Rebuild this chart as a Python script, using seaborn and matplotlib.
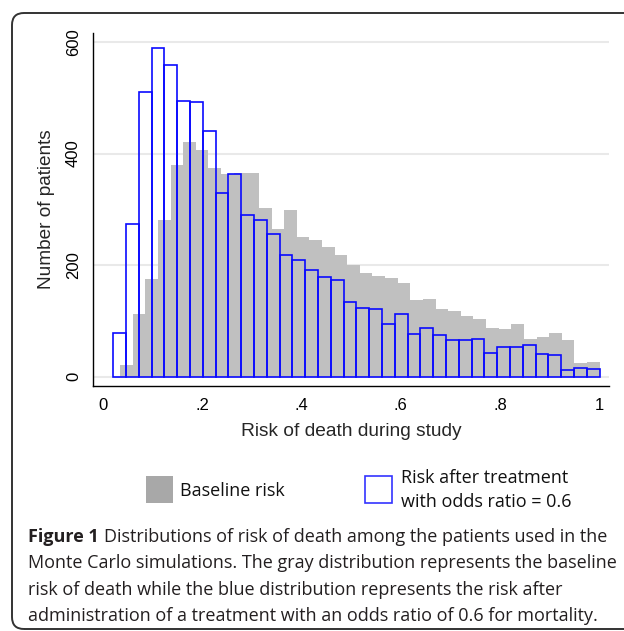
import numpy as np
import pandas as pd
import matplotlib
matplotlib.use("Agg")
import matplotlib.pyplot as plt
from matplotlib.patches import Rectangle, FancyBboxPatch
import seaborn as sns

# ---------------- data ----------------
baseline_counts = [21, 112, 176, 281, 380, 420, 406, 374, 363, 366,
                   366, 302, 265, 298, 251, 245, 233, 218, 200, 186,
                   180, 177, 168, 138, 139, 121, 118, 109, 104, 88,
                   86, 94, 67, 72, 78, 66, 24, 26]
baseline_range = (0.035, 1.0)

treated_counts = [78, 273, 510, 590, 558, 494, 492, 440, 330, 363,
                  289, 281, 255, 219, 209, 192, 178, 173, 134, 124,
                  122, 95, 113, 77, 87, 74, 66, 66, 68, 43,
                  54, 53, 56, 41, 39, 12, 16, 14]
treated_range = (0.0213, 1.0)

x_ticks = [0, 0.2, 0.4, 0.6, 0.8, 1.0]
x_tick_labels = ["0", ".2", ".4", ".6", ".8", "1"]
y_ticks = [0, 200, 400, 600]
y_tick_labels = ["0", "200", "400", "600"]

x_label = "Risk of death during study"
y_label = "Number of patients"
legend_labels = ["Baseline risk", "Risk after treatment\nwith odds ratio = 0.6"]
caption_bold = "Figure 1"
caption_lines = [
    "Distributions of risk of death among the patients used in the",
    "Monte Carlo simulations. The gray distribution represents the baseline",
    "risk of death while the blue distribution represents the risk after",
    "administration of a treatment with an odds ratio of 0.6 for mortality.",
]

# ---------------- figure ----------------
W, H = 624, 631
sns.set_style("white")
plt.rcParams["font.family"] = ["Liberation Sans", "DejaVu Sans"]

fig = plt.figure(figsize=(W / 100, H / 100), dpi=100)


def fx(px):
    return px / W


def fy(py):
    return 1 - py / H


ax_l, ax_r, ax_t, ax_b = 93.3, 609, 32.7, 386
ax = fig.add_axes([fx(ax_l), fy(ax_b), fx(ax_r) - fx(ax_l), fy(ax_t) - fy(ax_b)])


def hist(counts, rng, **kw):
    n = len(counts)
    width = (rng[1] - rng[0]) / n
    centers = rng[0] + width * (np.arange(n) + 0.5)
    df = pd.DataFrame({"risk": centers, "n": np.asarray(counts, dtype=float)})
    sns.histplot(data=df, x="risk", weights="n", bins=n, binrange=rng,
                 ax=ax, **kw)


GRAY = "#c0c0c0"
BLUE = "#0a0aff"
hist(baseline_counts, baseline_range, color=GRAY, alpha=1, linewidth=0,
     edgecolor=GRAY, stat="count")
hist(treated_counts, treated_range, fill=False, color=BLUE, linewidth=1.2,
     stat="count")

ax.set_xlim(-0.0189, 1.0188)
ax.set_ylim(-16.7, 616.7)
ax.set_xticks(x_ticks)
ax.set_xticklabels(x_tick_labels)
ax.set_yticks(y_ticks)
ax.set_yticklabels(y_tick_labels, rotation=90, va="center")

ax.yaxis.grid(True, color="#e9e9e9", linewidth=1.5)
ax.xaxis.grid(False)
ax.set_axisbelow(True)
for s in ["top", "right"]:
    ax.spines[s].set_visible(False)
for s in ["left", "bottom"]:
    ax.spines[s].set_color("black")
    ax.spines[s].set_linewidth(1.0)

ax.tick_params(axis="both", direction="out", length=4.5, width=1,
               color="#555555", labelcolor="black")
ax.tick_params(axis="x", pad=4.3, labelsize=12)
ax.tick_params(axis="y", pad=4.3, labelsize=12)

ax.set_xlabel(x_label, fontsize=13.8)
ax.set_ylabel(y_label, fontsize=13.7)
ax.xaxis.set_label_coords(0.5, -(423 - ax_b) / (ax_b - ax_t))
ax.yaxis.set_label_coords((55 - ax_l) / (ax_r - ax_l), 0.5)

# ---------------- legend ----------------
LEG_FONT = ["Open Sans", "DejaVu Sans"]
leg_size = 13
fig.add_artist(Rectangle((fx(146), fy(503)), fx(173) - fx(146), fy(476) - fy(503),
                         facecolor="#a8a8a8", edgecolor="none",
                         transform=fig.transFigure))
fig.add_artist(Rectangle((fx(364.5), fy(503)), fx(391.5) - fx(364.5), fy(476) - fy(503),
                         facecolor="white", edgecolor="#3333ff", linewidth=1.2,
                         transform=fig.transFigure))
fig.text(fx(180), fy(496), legend_labels[0], family=LEG_FONT, fontsize=leg_size,
         va="baseline", ha="left", color="#111111")
l2a, l2b = legend_labels[1].split("\n")
fig.text(fx(401), fy(483), l2a, family=LEG_FONT, fontsize=leg_size,
         va="baseline", ha="left", color="#111111")
fig.text(fx(401), fy(507), l2b, family=LEG_FONT, fontsize=leg_size,
         va="baseline", ha="left", color="#111111")

# ---------------- caption ----------------
CAP_COLOR = "#231f20"
cap_size = 13
baselines = [542, 568.5, 595, 621]
tb = fig.text(fx(28), fy(baselines[0]), caption_bold, family=LEG_FONT,
              fontsize=cap_size, fontweight="bold", va="baseline", ha="left",
              color=CAP_COLOR)
fig.canvas.draw()
bb = tb.get_window_extent()
fig.text((bb.x1 + 5) / W, fy(baselines[0]), caption_lines[0], family=LEG_FONT,
         fontsize=cap_size, va="baseline", ha="left", color=CAP_COLOR)
for line, b in zip(caption_lines[1:], baselines[1:]):
    fig.text(fx(28), fy(b), line, family=LEG_FONT, fontsize=cap_size,
             va="baseline", ha="left", color=CAP_COLOR)

# ---------------- rounded frame ----------------
frame = FancyBboxPatch((12, H - 629), 700, 629 - 13,
                       boxstyle="round,pad=0,rounding_size=12",
                       facecolor="none", edgecolor="#333333", linewidth=1.4,
                       transform=None, clip_on=False)
fig.add_artist(frame)

fig.savefig("out.png", dpi=100)
